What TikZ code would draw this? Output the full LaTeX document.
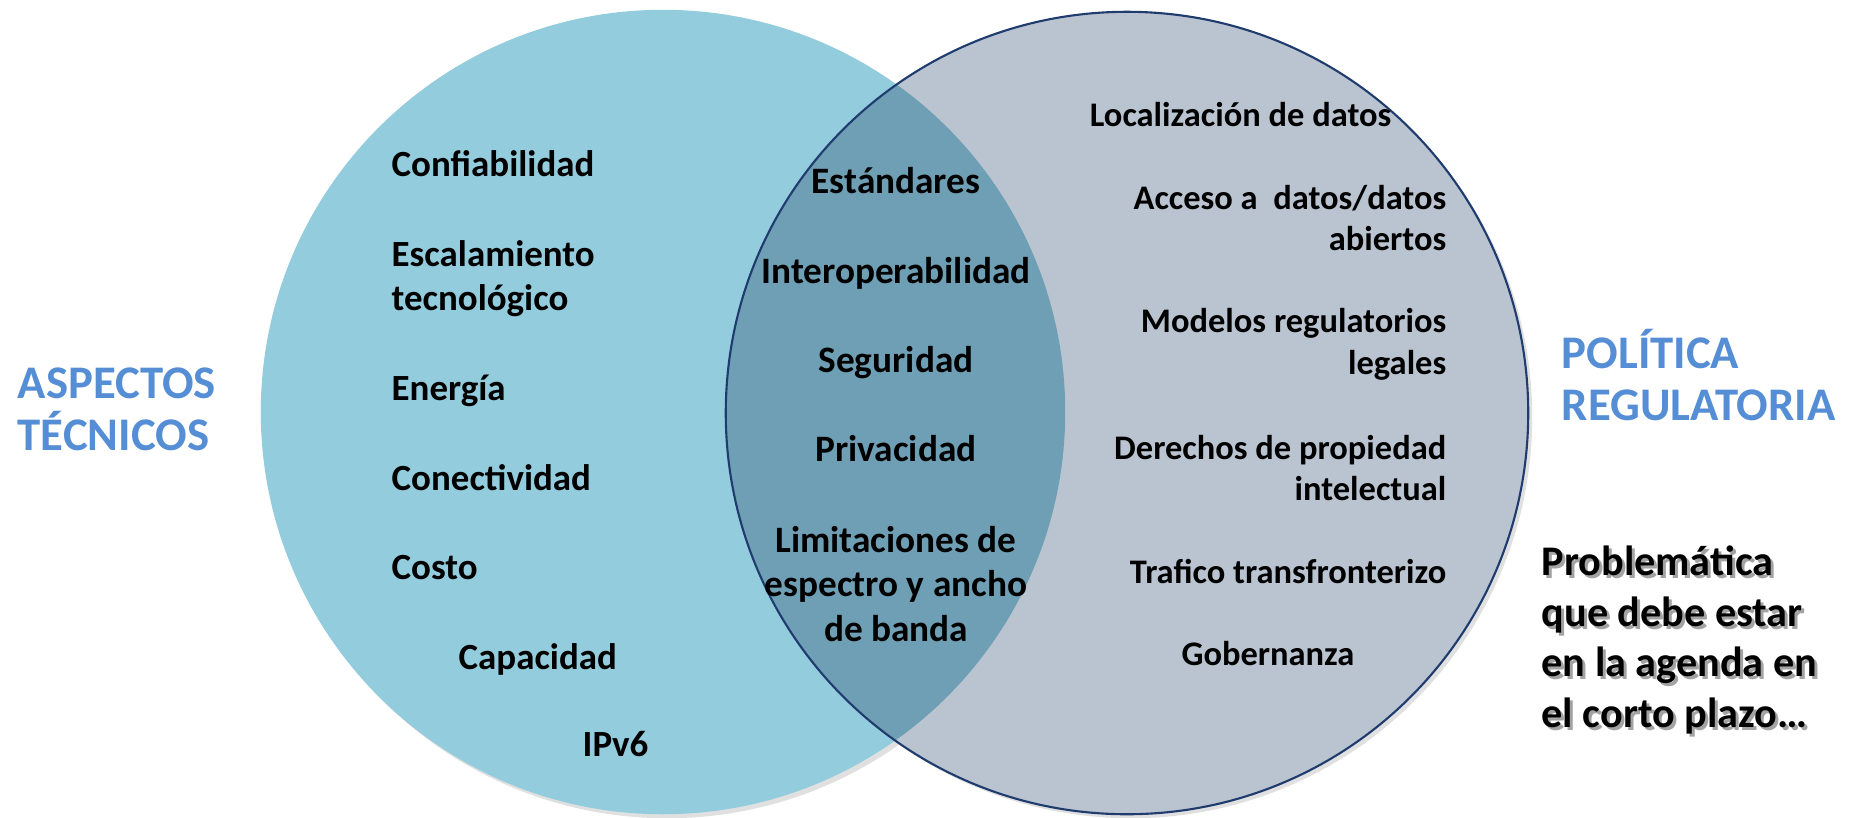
\documentclass[tikz,border=0pt]{standalone}
\usepackage{fontspec}
\setmainfont{Carlito}
\definecolor{leftfill}{RGB}{147,204,221}
\definecolor{rightfill}{RGB}{185,196,208}
\definecolor{midfill}{RGB}{110,159,181}
\definecolor{rimcol}{RGB}{32,60,110}
\definecolor{titleblue}{RGB}{85,142,213}
\newcommand\itemfont{\fontsize{10.5pt}{12.5pt}\selectfont\bfseries}
\newcommand\miditemfont{\fontsize{10.6pt}{12.6pt}\selectfont\bfseries}
\newcommand\rightitemfont{\fontsize{9.8pt}{11.9pt}\selectfont\bfseries}
\newcommand\ttlfont{\fontsize{13.3pt}{14.7pt}\selectfont\bfseries}
\newcommand\probfont{\fontsize{12pt}{14.4pt}\selectfont\bfseries}
\tikzset{
  item/.style={font=\itemfont, inner sep=0pt, text=black},
  miditem/.style={font=\miditemfont, inner sep=0pt, text=black},
  ritem/.style={font=\rightitemfont, inner sep=0pt, text=black},
  ttl/.style={font=\ttlfont, inner sep=0pt, text=titleblue, align=left},
  prob/.style={font=\probfont, inner sep=0pt, align=left},
}
\begin{document}
\begin{tikzpicture}[x=0.01cm,y=-0.01cm]
\useasboundingbox (0,0) rectangle (1854,817);
% shadows
\fill[black,opacity=0.12] (667,416) circle [radius=4.02cm];
\fill[black,opacity=0.12] (1131,417) circle [radius=4.01cm];
% circles
\fill[leftfill] (663,412) circle [radius=4.02cm];
\fill[rightfill] (1127,413) circle [radius=4.01cm];
\begin{scope}
  \clip (663,412) circle [radius=4.02cm];
  \fill[midfill] (1127,413) circle [radius=4.01cm];
\end{scope}
\draw[rimcol, line width=0.6pt] (1127,413) circle [radius=4.01cm];

% left column
\node[item, anchor=mid west] (conf) at (391,168) {Confiabilidad};
\node[item, anchor=west, align=left] (esc) at (391,279) {Escalamiento\\tecnológico};
\node[item, anchor=mid west] (ene) at (391,392) {Energía};
\node[item, anchor=mid west] (con) at (391,482) {Conectividad};
\node[item, anchor=mid west] (cos) at (391,571) {Costo};
\node[item, anchor=mid west] (cap) at (458,661) {Capacidad};
\node[item, anchor=mid west] (ipv) at (582,748) {IPv6};

% middle
\node[miditem, anchor=mid] (est) at (896,185) {Estándares};
\node[miditem, anchor=mid] (int) at (896,275) {Interoperabilidad};
\node[miditem, anchor=mid] (seg) at (896,364) {Seguridad};
\node[miditem, anchor=mid] (pri) at (896,453) {Privacidad};
\node[miditem, align=center] (lim) at (896,584) {Limitaciones de\\espectro y ancho\\de banda};

% right column
\node[ritem, anchor=mid east] (loc) at (1392,118) {Localización de datos};
\node[ritem, anchor=east, align=right] (acc) at (1447,218) {Acceso a\ \ datos/datos\\abiertos};
\node[ritem, anchor=east, align=right] (mod) at (1447,344) {Modelos regulatorios\\legales};
\node[ritem, anchor=east, align=right] (der) at (1447,468) {Derechos de propiedad\\intelectual};
\node[ritem, anchor=mid east] (tra) at (1447,575) {Trafico transfronterizo};
\node[ritem, anchor=mid] (gob) at (1268,657) {Gobernanza};

% titles
\node[ttl, anchor=west] (asp) at (17,409) {ASPECTOS\\TÉCNICOS};
\node[ttl, anchor=west] (pol) at (1561,375) {POLÍTICA\\REGULATORIA};

% problem text with shadow
\node[prob, anchor=west, text=black!45, opacity=0.8] (probsh) at (1544,643) {Problemática\\que debe estar\\en la agenda en\\el corto plazo…};
\node[prob, anchor=west, text=black] (prob) at (1541,640) {Problemática\\que debe estar\\en la agenda en\\el corto plazo…};
\end{tikzpicture}
\end{document}
